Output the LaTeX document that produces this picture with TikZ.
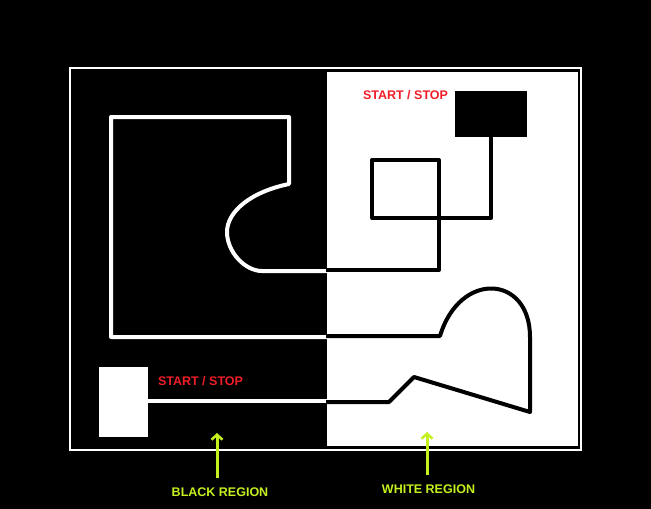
\documentclass[tikz,border=0pt]{standalone}
\usepackage{fontspec}
\setmainfont{Liberation Sans}
\usetikzlibrary{arrows.meta}
\definecolor{ssred}{RGB}{240,30,40}
\definecolor{lime}{RGB}{195,240,30}
\tikzset{
  whiteline/.style={draw=white,line width=4pt,line join=round},
  blackline/.style={draw=black,line width=4pt,line join=round},
  sslabel/.style={text=ssred,font=\bfseries\fontsize{12.5}{13}\selectfont,inner sep=0pt},
  reglabel/.style={text=lime,font=\bfseries\fontsize{12.5}{13}\selectfont,inner sep=0pt},
  regarrow/.style={draw=lime,line width=3pt,-{Straight Barb[length=5pt,width=11pt,line width=2.5pt]}},
}
\begin{document}
\begin{tikzpicture}[x=1pt,y=-1pt]
\useasboundingbox (0,0) rectangle (651,509);
\fill[black] (0,0) rectangle (651,509);
% white region
\fill[white] (327,72) rectangle (578,446);
% frame
\draw[white,line width=2.5pt] (70,68) rectangle (581,450);
% start/stop boxes
\node[fill=black,minimum width=72pt,minimum height=46pt,inner sep=0pt] (tr) at (491,114) {};
\node[fill=white,minimum width=49pt,minimum height=70pt,inner sep=0pt] (bl) at (123.5,402) {};
% white path in black region
\draw[whiteline] (327,271) -- (262,271)
  .. controls (245,271) and (227,252) .. (227,232)
  .. controls (227,212) and (250,192) .. (289,184)
  -- (289,117) -- (111,117) -- (111,337) -- (327,337);
\coordinate (bj) at (327,401);
\draw[whiteline] (bl.east |- bj) -- (bj);
% black paths in white region
\draw[blackline] (326,270) -- (439,270) -- (439,160) -- (372,160) -- (372,218) -- (491,218) -- (tr.south);
\draw[blackline] (326,336) -- (440,336)
  .. controls (460,270) and (530,275) .. (530,337)
  -- (530,412) -- (414,377) -- (389,402) -- (326,402);
% labels
\node[sslabel] (ss1) at (405.5,95) {START / STOP};
\node[sslabel] (ss2) at (200.5,381) {START / STOP};
\node[reglabel] (blab) at (220,492) {BLACK REGION};
\node[reglabel] (wlab) at (428.5,489) {WHITE REGION};
\coordinate (ba) at (217,433);
\coordinate (wa) at (427,432);
\draw[regarrow] ([xshift=-3pt,yshift=9pt]blab.north) -- (ba);
\draw[regarrow] ([xshift=-1.5pt,yshift=9.5pt]wlab.north) -- (wa);
\end{tikzpicture}
\end{document}
